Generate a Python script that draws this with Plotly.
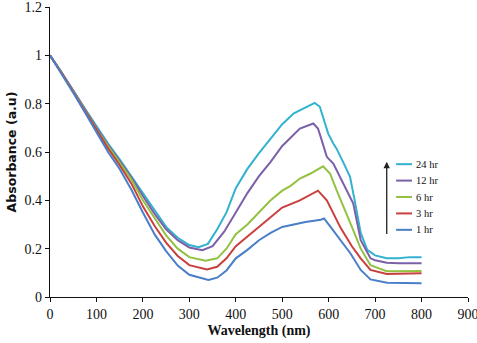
import plotly.graph_objects as go

# Absorbance spectra (wavelength in nm, absorbance in a.u.) for each reaction time
wl_24hr = [0, 25, 50, 75, 100, 125, 150, 175, 200, 225, 250, 275, 300, 320, 340, 360, 380,
           400, 425, 450, 475, 500, 525, 550, 570, 581, 592, 599, 610, 617, 631, 646, 656,
           669, 683, 700, 725, 750, 775, 800]
abs_24hr = [1.0, 0.93, 0.855, 0.78, 0.705, 0.635, 0.57, 0.50, 0.425, 0.355, 0.29, 0.245,
            0.215, 0.206, 0.22, 0.28, 0.35, 0.45, 0.53, 0.595, 0.655, 0.715, 0.76, 0.785,
            0.803, 0.787, 0.718, 0.676, 0.635, 0.614, 0.559, 0.497, 0.40, 0.265, 0.195,
            0.172, 0.16, 0.16, 0.165, 0.165]

wl_12hr = [0, 25, 50, 75, 100, 125, 150, 175, 200, 225, 250, 275, 300, 328, 350, 375, 400,
           425, 450, 475, 500, 538, 567, 577, 585, 596, 610, 624, 639, 653, 669, 690, 700,
           725, 750, 775, 800]
abs_12hr = [1.0, 0.93, 0.853, 0.777, 0.70, 0.63, 0.562, 0.495, 0.418, 0.345, 0.28, 0.235,
            0.205, 0.194, 0.21, 0.27, 0.35, 0.43, 0.50, 0.559, 0.625, 0.697, 0.718, 0.697,
            0.649, 0.58, 0.552, 0.497, 0.442, 0.387, 0.235, 0.16, 0.152, 0.142, 0.14, 0.14,
            0.14]

wl_6hr = [0, 25, 50, 75, 100, 125, 150, 175, 200, 225, 250, 275, 300, 335, 360, 380, 400,
          425, 450, 475, 500, 518, 538, 560, 588, 603, 617, 631, 650, 669, 690, 725, 750,
          800]
abs_6hr = [1.0, 0.928, 0.85, 0.773, 0.695, 0.625, 0.555, 0.487, 0.40, 0.325, 0.255, 0.20,
           0.165, 0.15, 0.16, 0.20, 0.26, 0.30, 0.35, 0.40, 0.44, 0.46, 0.49, 0.51, 0.541,
           0.511, 0.442, 0.38, 0.29, 0.20, 0.132, 0.107, 0.107, 0.108]

wl_3hr = [0, 25, 50, 75, 100, 125, 150, 175, 200, 225, 250, 275, 300, 338, 360, 380, 400,
          425, 450, 475, 500, 538, 577, 596, 626, 650, 669, 690, 725, 750, 800]
abs_3hr = [1.0, 0.927, 0.848, 0.77, 0.69, 0.615, 0.545, 0.47, 0.375, 0.295, 0.225, 0.17,
           0.132, 0.114, 0.125, 0.16, 0.21, 0.25, 0.29, 0.33, 0.37, 0.40, 0.44, 0.40, 0.285,
           0.21, 0.16, 0.112, 0.095, 0.096, 0.098]

wl_1hr = [0, 25, 50, 75, 100, 125, 150, 175, 200, 225, 250, 275, 300, 341, 360, 380, 400,
          425, 450, 475, 500, 550, 583, 590, 604, 626, 647, 669, 690, 726, 800]
abs_1hr = [1.0, 0.925, 0.845, 0.765, 0.68, 0.60, 0.53, 0.445, 0.35, 0.26, 0.19, 0.13,
           0.092, 0.07, 0.08, 0.11, 0.16, 0.195, 0.235, 0.265, 0.29, 0.31, 0.32, 0.325,
           0.29, 0.235, 0.18, 0.112, 0.073, 0.059, 0.057]

series = [
    ("24 hr", wl_24hr, abs_24hr, "#33B2D0"),
    ("12 hr", wl_12hr, abs_12hr, "#7B5FA8"),
    ("6 hr", wl_6hr, abs_6hr, "#93C142"),
    ("3 hr", wl_3hr, abs_3hr, "#C8403E"),
    ("1 hr", wl_1hr, abs_1hr, "#4A7FC8"),
]

x_ticks = [0, 100, 200, 300, 400, 500, 600, 700, 800, 900]
y_ticks = [0, 0.2, 0.4, 0.6, 0.8, 1, 1.2]
y_tick_text = ["0", "0.2", "0.4", "0.6", "0.8", "1", "1.2"]

serif = "Liberation Serif"

fig = go.Figure()
for name, wl, values, color in series:
    fig.add_trace(go.Scatter(
        x=wl, y=values, mode="lines", name=name,
        line=dict(color=color, width=2), showlegend=False,
    ))

# Compact key: short line sample + label per series, stacked downward
key_x0, key_x1, key_text_x = 0.828, 0.866, 0.871
key_top, key_gap = 0.458, 0.0566
for i, (name, wl, values, color) in enumerate(series):
    ky = key_top - i * key_gap
    fig.add_shape(type="line", xref="paper", yref="paper",
                  x0=key_x0, x1=key_x1, y0=ky, y1=ky,
                  line=dict(color=color, width=2))
    fig.add_annotation(xref="paper", yref="paper", x=key_text_x, y=ky,
                       xanchor="left", yanchor="middle", showarrow=False,
                       text=name, font=dict(family=serif, size=10.5, color="#111111"))

# Upward arrow beside the key: increasing reaction time
fig.add_annotation(
    x=725, y=0.56, ax=725, ay=0.255,
    xref="x", yref="y", axref="x", ayref="y",
    showarrow=True, arrowhead=2, arrowsize=1, arrowwidth=1.3,
    arrowcolor="#222222", text="",
)

fig.update_layout(
    width=477, height=343,
    margin=dict(l=50, r=9, t=7, b=46),
    paper_bgcolor="white", plot_bgcolor="white",
    font=dict(family=serif, color="#111111"),
    showlegend=False,
    xaxis=dict(
        range=[0, 900], tickvals=x_ticks, ticktext=[str(v) for v in x_ticks],
        showline=True, linecolor="#111111", linewidth=1.3,
        ticks="outside", ticklen=4, tickcolor="#111111",
        showgrid=False, zeroline=False, ticklabeloverflow="allow", automargin=False,
        tickfont=dict(family=serif, size=14),
        title=dict(text="<b>Wavelength (nm)</b>", font=dict(family=serif, size=14), standoff=4),
    ),
    yaxis=dict(
        range=[0, 1.2], tickvals=y_ticks, ticktext=y_tick_text,
        showline=True, linecolor="#111111", linewidth=1.3,
        ticks="outside", ticklen=4, tickcolor="#111111",
        showgrid=False, zeroline=False, ticklabeloverflow="allow", automargin=False,
        tickfont=dict(family=serif, size=14),
        title=dict(text="<b>Absorbance (a.u)</b>", font=dict(family="DejaVu Sans", size=12.5), standoff=5),
    ),
)

fig.write_html("out.html")
